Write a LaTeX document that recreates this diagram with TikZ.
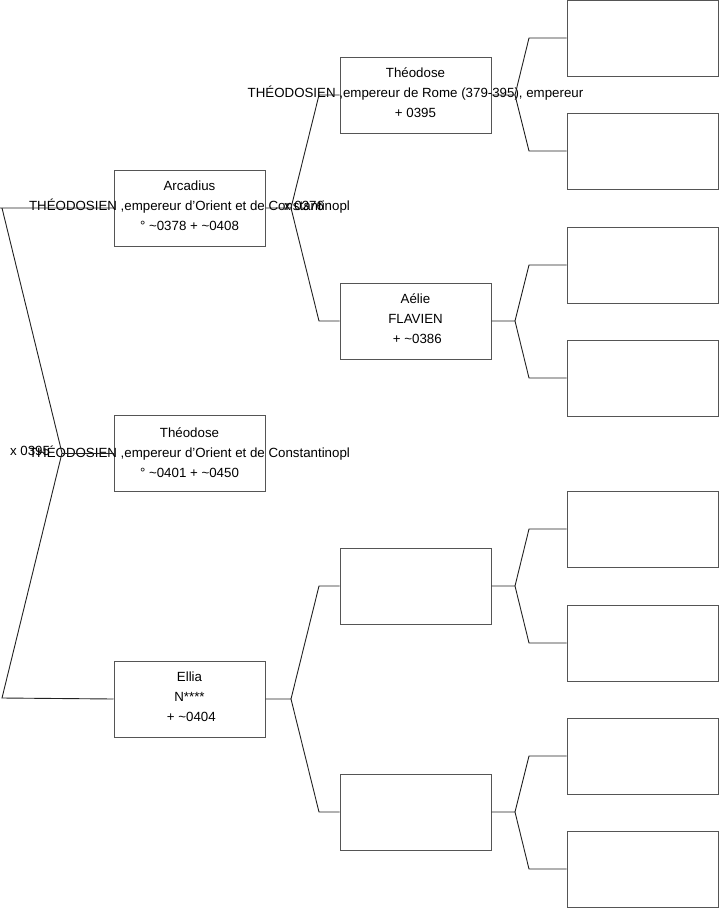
\documentclass[tikz,border=0pt]{standalone}
\usepackage{fontspec}
\setmainfont{Liberation Sans}
\definecolor{boxgray}{HTML}{555555}
\definecolor{linegray}{HTML}{222222}
\tikzset{
  person/.style={draw=boxgray, line width=1pt, minimum width=151pt, minimum height=76pt, inner sep=0pt},
  txt/.style={align=center, font=\fontsize{13.3}{20}\selectfont, inner sep=0pt, text=black},
  lbl/.style={font=\fontsize{13.3}{15}\selectfont, inner sep=0pt, text=black},
  link/.style={draw=linegray, line width=0.9pt, line join=miter}
}
\begin{document}
\begin{tikzpicture}[x=1pt,y=-1pt]
\useasboundingbox (0,0) rectangle (719,908);
% level 1
\node[person] (arc) at (189.5,208) {};
\node[person] (theo) at (189.5,453) {};
\node[person] (ell) at (189.5,699) {};
% level 2
\node[person] (theoI) at (415.5,95) {};
\node[person] (aelie) at (415.5,321) {};
\node[person] (e1) at (415.5,586) {};
\node[person] (e2) at (415.5,812) {};
% level 3
\node[person] (g1) at (642.5,38) {};
\node[person] (g2) at (642.5,151) {};
\node[person] (g3) at (642.5,265) {};
\node[person] (g4) at (642.5,378) {};
\node[person] (g5) at (642.5,529) {};
\node[person] (g6) at (642.5,643) {};
\node[person] (g7) at (642.5,756) {};
\node[person] (g8) at (642.5,869) {};
% texts
\node[txt] (arcT) at (189.5,206) {Arcadius\\THÉODOSIEN ,empereur d'Orient et de Constantinopl\\° \textasciitilde0378 + \textasciitilde0408};
\node[txt] (theoT) at (189.5,453) {Théodose\\THÉODOSIEN ,empereur d'Orient et de Constantinopl\\° \textasciitilde0401 + \textasciitilde0450};
\node[txt] (ellT) at (189.5,697) {Ellia\\N****\\\ + \textasciitilde0404};
\node[txt] (theoIT) at (415.5,93) {Théodose\\THÉODOSIEN ,empereur de Rome (379-395), empereur\\+ 0395};
\node[txt] (aelieT) at (415.5,319) {Aélie\\FLAVIEN\\\ + \textasciitilde0386};
% labels
\node[lbl] (m0) at (30,451) {x 0395};
\node[lbl] (m1) at (304,206) {x 0376};
% root connectors
\coordinate (r0) at (62,453);
\coordinate (r1) at (2,208);
\coordinate (r2) at (2,698);
\draw[link] (arc.west) -- (0,208) (r1) -- (r0) -- (r2) -- (ell.west);
\draw[link] (r0) -- (theo.west);
% level 1 -> 2
\coordinate (v1) at (291,208);
\draw[link] (arc.east) -- (v1) -- (319,95) -- (theoI.west);
\draw[link] (v1) -- (319,321) -- (aelie.west);
\coordinate (v2) at (291,699);
\draw[link] (ell.east) -- (v2) -- (319,586) -- (e1.west);
\draw[link] (v2) -- (319,812) -- (e2.west);
% level 2 -> 3
\coordinate (w1) at (515,95);
\draw[link] (theoI.east) -- (w1) -- (529,38) -- (g1.west);
\draw[link] (w1) -- (529,151) -- (g2.west);
\coordinate (w2) at (515,321);
\draw[link] (aelie.east) -- (w2) -- (529,265) -- (g3.west);
\draw[link] (w2) -- (529,378) -- (g4.west);
\coordinate (w3) at (515,586);
\draw[link] (e1.east) -- (w3) -- (529,529) -- (g5.west);
\draw[link] (w3) -- (529,643) -- (g6.west);
\coordinate (w4) at (515,812);
\draw[link] (e2.east) -- (w4) -- (529,756) -- (g7.west);
\draw[link] (w4) -- (529,869) -- (g8.west);
\end{tikzpicture}
\end{document}
